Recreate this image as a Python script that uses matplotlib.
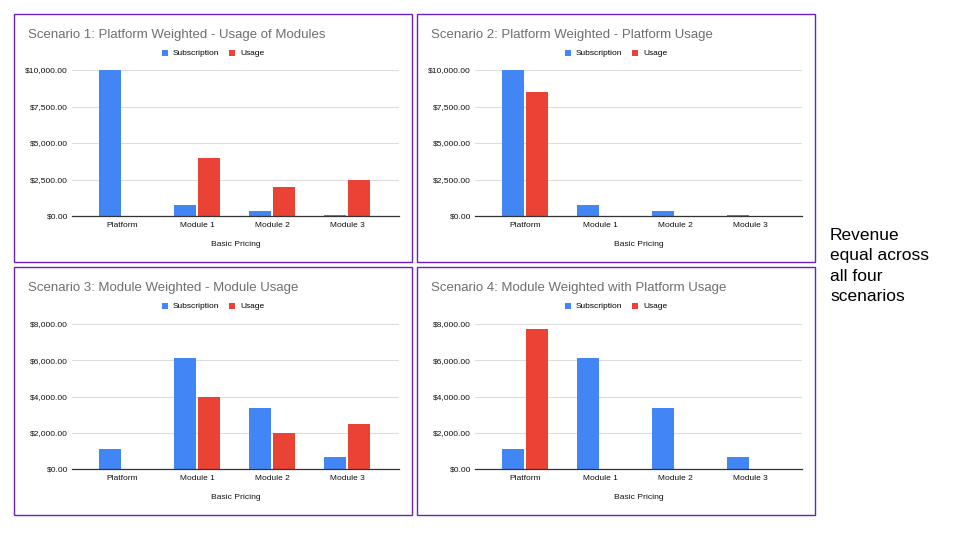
import matplotlib
matplotlib.use("Agg")
import matplotlib.pyplot as plt
from matplotlib.patches import Rectangle
from matplotlib.ticker import FuncFormatter

plt.rcParams['font.family'] = ['Liberation Sans', 'DejaVu Sans']

categories = ["Platform", "Module 1", "Module 2", "Module 3"]

titles = [
    "Scenario 1: Platform Weighted - Usage of Modules",
    "Scenario 2: Platform Weighted - Platform Usage",
    "Scenario 3: Module Weighted - Module Usage",
    "Scenario 4: Module Weighted with Platform Usage",
]

sub_s1 = [10000, 750, 375, 50]
use_s1 = [0, 4000, 2000, 2500]
sub_s2 = [10000, 750, 375, 50]
use_s2 = [8500, 0, 0, 0]
sub_s3 = [1100, 6100, 3350, 650]
use_s3 = [0, 4000, 2000, 2500]
sub_s4 = [1100, 6100, 3350, 650]
use_s4 = [7700, 0, 0, 0]

yticks_top = [0, 2500, 5000, 7500, 10000]
yticks_bottom = [0, 2000, 4000, 6000, 8000]

BLUE = "#4285F4"
RED = "#EA4335"
W, H = 960, 540

fig = plt.figure(figsize=(9.6, 5.4), dpi=100)
fig.patch.set_facecolor("white")


def px(x0, y0, x1, y1):
    # pixel box (top-left origin) -> figure fraction rect
    return [x0 / W, 1 - y1 / H, (x1 - x0) / W, (y1 - y0) / H]


panels = [
    (14, 14, sub_s1, use_s1, yticks_top),
    (417, 14, sub_s2, use_s2, yticks_top),
    (14, 267, sub_s3, use_s3, yticks_bottom),
    (417, 267, sub_s4, use_s4, yticks_bottom),
]

for i, (px0, py0, sub, use, yt) in enumerate(panels):
    # border
    fig.patches.append(Rectangle((px0 / W, 1 - (py0 + 248) / H), 398 / W, 248 / H,
                                 transform=fig.transFigure, fill=False,
                                 edgecolor="#6A1FC0", linewidth=1.0))
    top_off = 56 if i < 2 else 57
    ax = fig.add_axes(px(px0 + 58, py0 + top_off, px0 + 385, py0 + 202))
    xs = range(len(categories))
    bw = 0.29
    ax.bar([x - bw / 2 - 0.015 for x in xs], sub, width=bw, color=BLUE, label="Subscription", zorder=3)
    ax.bar([x + bw / 2 + 0.015 for x in xs], use, width=bw, color=RED, label="Usage", zorder=3)
    ax.set_xlim(-0.67, 3.69)
    ax.set_ylim(0, yt[-1])
    ax.set_yticks(yt)
    ax.yaxis.set_major_formatter(FuncFormatter(lambda v, p: "${:,.2f}".format(v)))
    ax.set_xticks(list(xs))
    ax.set_xticklabels(categories)
    ax.tick_params(axis="both", length=0, labelsize=6.0, colors="#111111")
    ax.tick_params(axis="x", pad=4)
    ax.tick_params(axis="y", pad=3)
    ax.grid(axis="y", color="#dddddd", linewidth=0.8, zorder=0)
    ax.set_axisbelow(True)
    for s in ["top", "right", "left"]:
        ax.spines[s].set_visible(False)
    ax.spines["bottom"].set_color("#333333")
    ax.spines["bottom"].set_linewidth(0.9)
    ax.spines["bottom"].set_zorder(4)
    ax.set_xlabel("Basic Pricing", fontsize=6.1, color="#111111", labelpad=9)
    ax.set_facecolor("none")

    fig.text((px0 + 14) / W, 1 - (py0 + 21) / H, titles[i], fontsize=9.5,
             color="#6f6f6f", ha="left", va="center")
    leg = ax.legend(loc="center", ncol=2, frameon=False, fontsize=6.0,
                    handlelength=0.75, handleheight=0.75,
                    columnspacing=1.1, handletextpad=0.6)
    leg.set_bbox_to_anchor(((px0 + 199) / W, 1 - (py0 + 39.5) / H), transform=fig.transFigure)

fig.text(830 / W, 1 - 266 / H, "Revenue\nequal across\nall four\nscenarios", fontsize=12.5,
         color="black", ha="left", va="center", linespacing=1.42)

fig.savefig("out.png", dpi=100, facecolor="white")
